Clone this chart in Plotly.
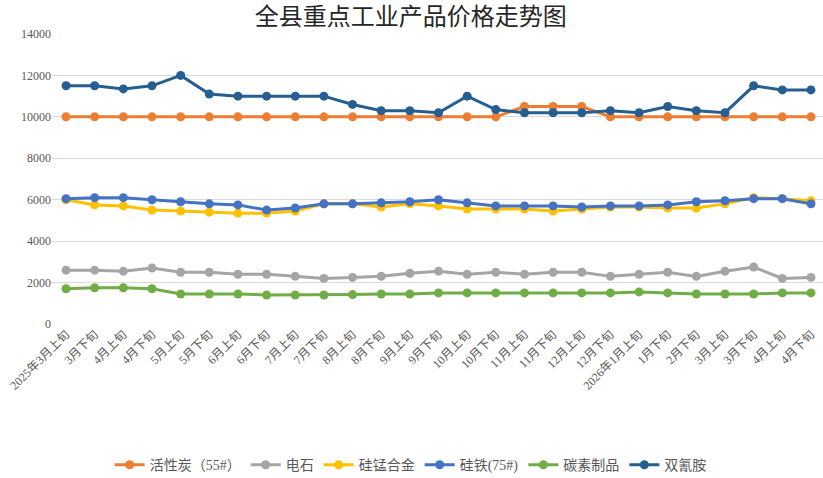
import plotly.graph_objects as go

categories = ["2025年3月上旬", "3月下旬", "4月上旬", "4月下旬", "5月上旬", "5月下旬",
              "6月上旬", "6月下旬", "7月上旬", "7月下旬", "8月上旬", "8月下旬",
              "9月上旬", "9月下旬", "10月上旬", "10月下旬", "11月上旬", "11月下旬",
              "12月上旬", "12月下旬", "2026年1月上旬", "1月下旬", "2月下旬", "3月上旬",
              "3月下旬", "4月上旬", "4月下旬"]

huoxingtan = [10000, 10000, 10000, 10000, 10000, 10000, 10000, 10000, 10000, 10000,
              10000, 10000, 10000, 10000, 10000, 10000, 10500, 10500, 10500, 10000,
              10000, 10000, 10000, 10000, 10000, 10000, 10000]
dianshi = [2600, 2600, 2550, 2700, 2500, 2500, 2400, 2400, 2300, 2200,
           2250, 2300, 2450, 2550, 2400, 2500, 2400, 2500, 2500, 2300,
           2400, 2500, 2300, 2550, 2750, 2200, 2250]
guimeng = [6000, 5750, 5700, 5500, 5450, 5400, 5350, 5350, 5450, 5800,
           5800, 5650, 5800, 5700, 5550, 5550, 5550, 5450, 5550, 5650,
           5650, 5600, 5600, 5800, 6100, 6050, 5950]
guitie = [6050, 6100, 6100, 6000, 5900, 5800, 5750, 5500, 5600, 5800,
          5800, 5850, 5900, 6000, 5850, 5700, 5700, 5700, 5650, 5700,
          5700, 5750, 5900, 5950, 6050, 6050, 5800]
tansu = [1700, 1750, 1750, 1700, 1450, 1450, 1450, 1400, 1400, 1400,
         1420, 1450, 1450, 1500, 1500, 1500, 1500, 1500, 1500, 1500,
         1550, 1500, 1450, 1450, 1450, 1500, 1500]
shuangqing = [11500, 11500, 11350, 11500, 12000, 11100, 11000, 11000, 11000, 11000,
              10600, 10300, 10300, 10200, 11000, 10350, 10200, 10200, 10200, 10300,
              10200, 10500, 10300, 10200, 11500, 11300, 11300]

series = [
    ("活性炭（55#）", huoxingtan, "#ED7D31"),
    ("电石", dianshi, "#A5A5A5"),
    ("硅锰合金", guimeng, "#FFC000"),
    ("硅铁(75#)", guitie, "#4472C4"),
    ("碳素制品", tansu, "#70AD47"),
    ("双氰胺", shuangqing, "#255E91"),
]

xs = list(range(len(categories)))

fig = go.Figure()
for name, vals, color in series:
    fig.add_trace(go.Scatter(
        x=xs, y=vals, name=name, mode="lines+markers",
        line=dict(color=color, width=3),
        marker=dict(color=color, size=9),
    ))

font_family = "Liberation Serif, Noto Sans CJK SC, serif"

fig.update_layout(
    width=823, height=478,
    margin=dict(l=52, r=0, t=34, b=154),
    paper_bgcolor="white", plot_bgcolor="white",
    font=dict(family=font_family, color="#595959", size=12),
    title=dict(text="全县重点工业产品价格走势图", x=0.499, xref="container", xanchor="center",
               y=0.966, yref="container", yanchor="middle",
               font=dict(size=24, color="#262626", family=font_family)),
    showlegend=True,
    legend=dict(orientation="h", xref="container", x=0.499, xanchor="center",
                yref="container", y=0.027, yanchor="middle",
                font=dict(size=14, color="#595959"), itemwidth=30, tracegroupgap=0),
)
fig.update_xaxes(
    range=[-0.49, 26.42], tickangle=-45, showgrid=False,
    tickmode="array", tickvals=xs, ticktext=categories,
    showline=False, zeroline=False, ticks="", tickfont=dict(size=12, color="#595959"),
)
fig.update_yaxes(
    range=[0, 14000], dtick=2000, showgrid=True, gridcolor="#D9D9D9", gridwidth=1,
    zeroline=False, showline=False, ticks="", tickfont=dict(size=12, color="#595959"),
    tickformat="d",
)

fig.write_html("out.html")
